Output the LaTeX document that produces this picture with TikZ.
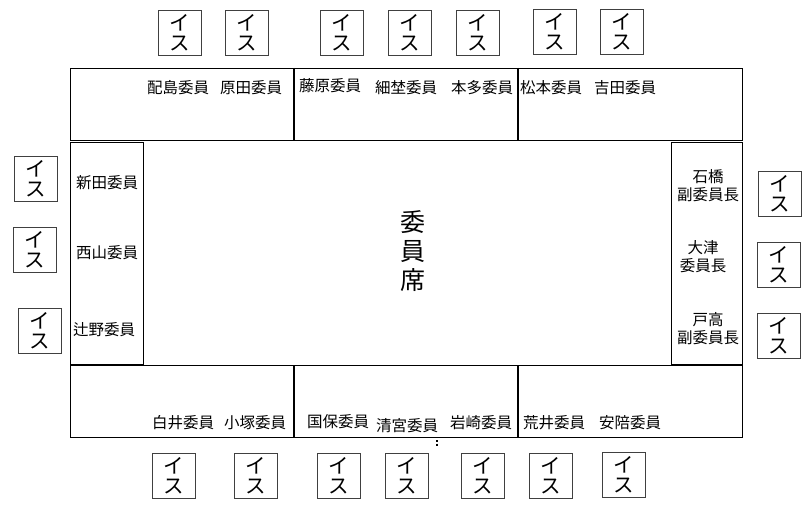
\documentclass[tikz,border=0pt]{standalone}
\usepackage{fontspec}
\setmainfont{Noto Sans CJK JP}
\begin{document}
\begin{tikzpicture}[x=1pt,y=-1pt,
  tbl/.style={draw=black,line width=0.9pt},
  divider/.style={draw=black,line width=1.7pt},
  chair/.style={draw=black!75,line width=0.9pt,minimum width=43pt,minimum height=45pt,inner sep=0pt,align=center,font=\fontsize{20.5}{20}\selectfont},
  lbl/.style={inner sep=0pt,align=center,font=\fontsize{15.5}{18}\selectfont},
  big/.style={inner sep=0pt,align=center,font=\fontsize{25}{29}\selectfont}]
\useasboundingbox[fill=white] (0,0) rectangle (810,510);
% tables
\draw[tbl] (70,68) rectangle (742,140);
\draw[tbl] (70,365) rectangle (742,437);
\draw[divider] (294,68) -- (294,140);
\draw[divider] (518,68) -- (518,140);
\draw[divider] (294,365) -- (294,437);
\draw[divider] (518,365) -- (518,437);
\draw[tbl] (70,142) rectangle (143,364);
\draw[tbl] (671,142) rectangle (742,364);
\draw[black,line width=1.2pt,dash pattern=on 2pt off 1.5pt] (437,440) -- (437,447);
% centre
\node[big] (seat) at (413,251) {委\\員\\席};
% top labels
\node[lbl] (t1) at (178,88) {配島委員};
\node[lbl] (t2) at (251,88) {原田委員};
\node[lbl] (t3) at (330,86) {藤原委員};
\node[lbl] (t4) at (406,88) {細埜委員};
\node[lbl] (t5) at (482,88) {本多委員};
\node[lbl] (t6) at (551,88) {松本委員};
\node[lbl] (t7) at (625,88) {吉田委員};
% left labels
\node[lbl] (l1) at (107,183) {新田委員};
\node[lbl] (l2) at (107,253) {西山委員};
\node[lbl] (l3) at (104,330) {辻野委員};
% right labels
\node[lbl] (r1) at (708,186) {石橋\\副委員長};
\node[lbl] (r2) at (703,257) {大津\\委員長};
\node[lbl] (r3) at (708,329) {戸高\\副委員長};
% bottom labels
\node[lbl] (b1) at (183,423) {白井委員};
\node[lbl] (b2) at (255,423) {小塚委員};
\node[lbl] (b3) at (338,422) {国保委員};
\node[lbl] (b4) at (407,426) {清宮委員};
\node[lbl] (b5) at (481,423) {岩崎委員};
\node[lbl] (b6) at (554,423) {荒井委員};
\node[lbl] (b7) at (630,423) {安陪委員};
% chairs top
\node[chair] (ct1) at (180,32.5) {イ\\ス};
\node[chair] (ct2) at (246.5,32.5) {イ\\ス};
\node[chair] (ct3) at (341.5,32.5) {イ\\ス};
\node[chair] (ct4) at (409.5,32.5) {イ\\ス};
\node[chair] (ct5) at (477.5,32.5) {イ\\ス};
\node[chair] (ct6) at (554.5,31.5) {イ\\ス};
\node[chair] (ct7) at (622,31.5) {イ\\ス};
% chairs left
\node[chair] (cl1) at (36,179) {イ\\ス};
\node[chair] (cl2) at (34.5,249.5) {イ\\ス};
\node[chair] (cl3) at (39.5,330.5) {イ\\ス};
% chairs right
\node[chair] (cr1) at (779.5,193.5) {イ\\ス};
\node[chair] (cr2) at (779,264.5) {イ\\ス};
\node[chair] (cr3) at (779,335.5) {イ\\ス};
% chairs bottom
\node[chair] (cb1) at (173.5,475.5) {イ\\ス};
\node[chair] (cb2) at (256,475.5) {イ\\ス};
\node[chair] (cb3) at (339,475.5) {イ\\ス};
\node[chair] (cb4) at (407,475.5) {イ\\ス};
\node[chair] (cb5) at (483,475.5) {イ\\ス};
\node[chair] (cb6) at (551,475.5) {イ\\ス};
\node[chair] (cb7) at (623.5,475) {イ\\ス};
\end{tikzpicture}
\end{document}
